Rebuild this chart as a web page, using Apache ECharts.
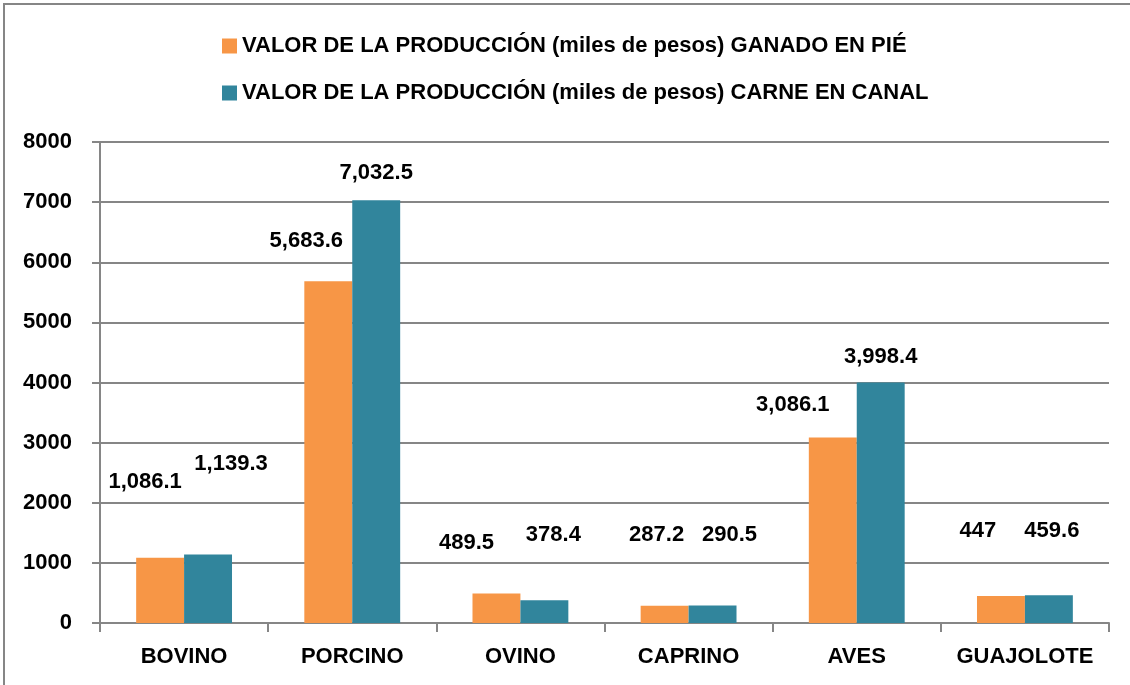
<!DOCTYPE html>
<html>
<head>
<meta charset="utf-8">
<title>Valor de la producción</title>
<script src="https://cdn.jsdelivr.net/npm/echarts@6/dist/echarts.min.js"></script>
<style>
  html, body { margin: 0; padding: 0; background: #fff; }
  #chart { width: 1130px; height: 685px; }
</style>
</head>
<body>
<div id="chart"></div>
<script>
var categories = ['BOVINO', 'PORCINO', 'OVINO', 'CAPRINO', 'AVES', 'GUAJOLOTE'];
var seriesNames = [
  'VALOR DE LA PRODUCCIÓN (miles de pesos) GANADO EN PIÉ',
  'VALOR DE LA PRODUCCIÓN (miles de pesos) CARNE EN CANAL'
];
var ganadoEnPie = [1086.1, 5683.6, 489.5, 287.2, 3086.1, 447];
var carneEnCanal = [1139.3, 7032.5, 378.4, 290.5, 3998.4, 459.6];
var yTicks = { min: 0, max: 8000, interval: 1000 };

// hand-placed label nudges (dx, dy) copied from the reference layout
var labelNudgeGanado = [[-15, -65], [-22, -29], [-30, -40], [-8, -60], [-40, -22], [-23, -54]];
var labelNudgeCarne = [[23, -80], [0, -16], [9, -54], [17, -60], [0, -15], [3, -53]];

var FONT = 'Liberation Sans';

function fmt(v) {
  var parts = String(v).split('.');
  parts[0] = parts[0].replace(/\B(?=(\d{3})+(?!\d))/g, ',');
  return parts.join('.');
}

function withLabels(values, nudges) {
  return values.map(function (v, i) {
    return { value: v, label: { offset: nudges[i] } };
  });
}

var chart = echarts.init(document.getElementById('chart'));

var labelText = { fontFamily: FONT, fontSize: 22, fontWeight: 'bold', color: '#000' };

chart.setOption({
  animation: false,
  textStyle: { fontFamily: FONT },
  color: ['#F79646', '#31859C'],
  legend: {
    orient: 'vertical',
    left: 217,
    top: 30,
    itemWidth: 15,
    itemHeight: 15,
    itemGap: 25,
    icon: 'rect',
    textStyle: { fontFamily: FONT, fontSize: 22, fontWeight: 'bold', color: '#000' },
    data: seriesNames
  },
  grid: { left: 100, right: 21, top: 142, bottom: 62 },
  xAxis: {
    type: 'category',
    data: categories,
    axisLine: { lineStyle: { color: '#868686', width: 2 } },
    axisTick: { show: true, interval: 0, length: 9, lineStyle: { color: '#868686', width: 2 } },
    axisLabel: Object.assign({ margin: 23, interval: 0 }, labelText)
  },
  yAxis: {
    type: 'value',
    min: yTicks.min,
    max: yTicks.max,
    interval: yTicks.interval,
    axisLine: { show: true, lineStyle: { color: '#868686', width: 2 } },
    axisTick: { show: true, length: 8, lineStyle: { color: '#868686', width: 2 } },
    splitLine: { lineStyle: { color: '#868686', width: 2 } },
    axisLabel: Object.assign({ margin: 28, formatter: function (v) { return String(v); } }, labelText)
  },
  graphic: [
    { type: 'line', shape: { x1: 3, y1: 4, x2: 1130, y2: 4 }, style: { stroke: '#868686', lineWidth: 2 } },
    { type: 'line', shape: { x1: 4, y1: 4, x2: 4, y2: 685 }, style: { stroke: '#868686', lineWidth: 2 } }
  ],
  series: [
    {
      name: seriesNames[0],
      type: 'bar',
      barGap: '0%',
      barCategoryGap: '43%',
      data: withLabels(ganadoEnPie, labelNudgeGanado),
      label: Object.assign({
        show: true, position: 'top', distance: 0,
        formatter: function (p) { return fmt(p.value); }
      }, labelText)
    },
    {
      name: seriesNames[1],
      type: 'bar',
      barGap: '0%',
      barCategoryGap: '43%',
      data: withLabels(carneEnCanal, labelNudgeCarne),
      label: Object.assign({
        show: true, position: 'top', distance: 0,
        formatter: function (p) { return fmt(p.value); }
      }, labelText)
    }
  ]
});

window.addEventListener('resize', function () { chart.resize(); });
</script>
</body>
</html>
